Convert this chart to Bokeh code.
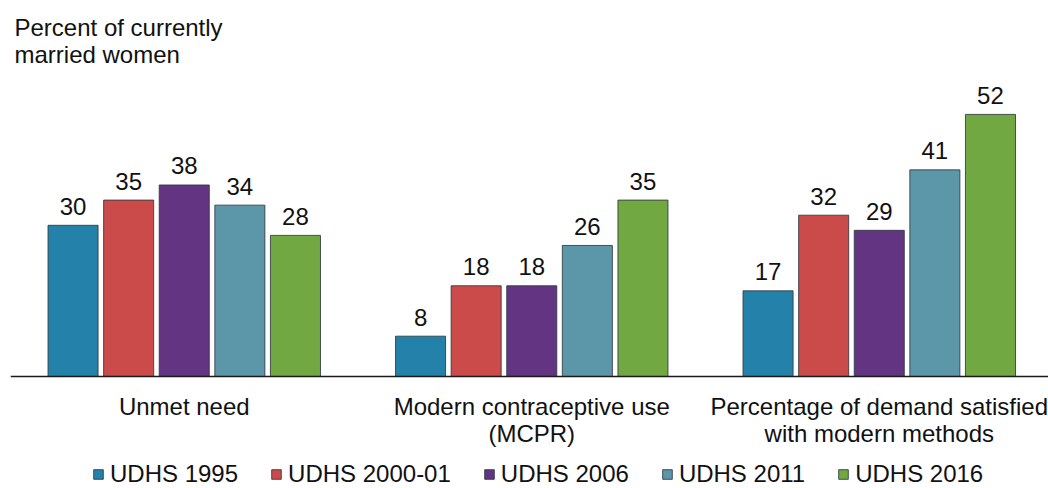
from bokeh.plotting import figure
from bokeh.models import ColumnDataSource, Legend, LegendItem, Label, Range1d, Span
from bokeh.core.properties import value
from bokeh.embed import file_html
from bokeh.resources import INLINE

categories = [["Unmet need"],
              ["Modern contraceptive use", "(MCPR)"],
              ["Percentage of demand satisfied", "with modern methods"]]
series = ["UDHS 1995", "UDHS 2000-01", "UDHS 2006", "UDHS 2011", "UDHS 2016"]
udhs_1995 = [30, 8, 17]
udhs_2000 = [35, 18, 32]
udhs_2006 = [38, 18, 29]
udhs_2011 = [34, 26, 41]
udhs_2016 = [28, 35, 52]
values = [udhs_1995, udhs_2000, udhs_2006, udhs_2011, udhs_2016]
colors = ["#2381AA", "#CB4A4A", "#633482", "#5C97A9", "#72A842"]
y_title = ["Percent of currently", "married women"]

FONT = "Liberation Sans"
FS = "24px"
TXT = "#111111"

PX_PER_UNIT = 5.04
p = figure(width=1048, height=488, output_backend="svg", toolbar_location=None,
           x_range=Range1d(0, 2.987),
           y_range=Range1d(-(488 - 376) / PX_PER_UNIT, 376 / PX_PER_UNIT),
           min_border_left=10, min_border_right=0, min_border_top=0, min_border_bottom=0)
p.outline_line_color = None
p.xgrid.visible = False
p.ygrid.visible = False
p.xaxis.visible = False
p.yaxis.visible = False

offsets = [-0.32, -0.16, 0.0, 0.16, 0.32]
renderers = []
for i, (name, vals, col) in enumerate(zip(series, values, colors)):
    xs = [k + 0.5 + offsets[i] for k in range(len(vals))]
    src = ColumnDataSource(dict(x=xs, top=vals, lab=[str(v) for v in vals]))
    r = p.vbar(x="x", top="top", bottom=0, width=0.144, source=src,
               fill_color=col, line_color="#2e3a3f", line_alpha=0.85, line_width=1)
    renderers.append(r)
    p.text(x="x", y="top", text="lab", source=src, text_align="center",
           text_baseline="alphabetic", y_offset=-19,
           text_font=value(FONT), text_font_size=FS, text_color=TXT)

# baseline (category axis line)
p.add_layout(Span(location=0, dimension="width", line_color="#1a1a1a", line_width=1.5))

# category labels below the baseline
for line_no in range(2):
    xs, labs = [], []
    for k, lines in enumerate(categories):
        if line_no < len(lines):
            xs.append(k + 0.5)
            labs.append(lines[line_no])
    src = ColumnDataSource(dict(x=xs, y=[0] * len(xs), lab=labs))
    p.text(x="x", y="y", text="lab", source=src, text_align="center",
           text_baseline="alphabetic", y_offset=30 + 27 * line_no,
           text_font=value(FONT), text_font_size=FS, text_color=TXT)

for j, t in enumerate(y_title):
    p.add_layout(Label(x=0.0115, y=(376 - 27 - 27 * j) / PX_PER_UNIT, text=t,
                       text_font=FONT, text_font_size=FS, text_color=TXT,
                       text_baseline="alphabetic"))

legend = Legend(items=[LegendItem(label=s, renderers=[r]) for s, r in zip(series, renderers)],
                orientation="horizontal", location=(82, 0),
                glyph_width=12, glyph_height=12, label_standoff=6, spacing=32,
                label_text_font=FONT, label_text_font_size=FS, label_text_color=TXT,
                label_text_line_height=0.95,
                label_height=14, padding=0, margin=0,
                background_fill_alpha=0, border_line_color=None)
p.add_layout(legend, "center")

open("out.html", "w").write(file_html(p, INLINE))
